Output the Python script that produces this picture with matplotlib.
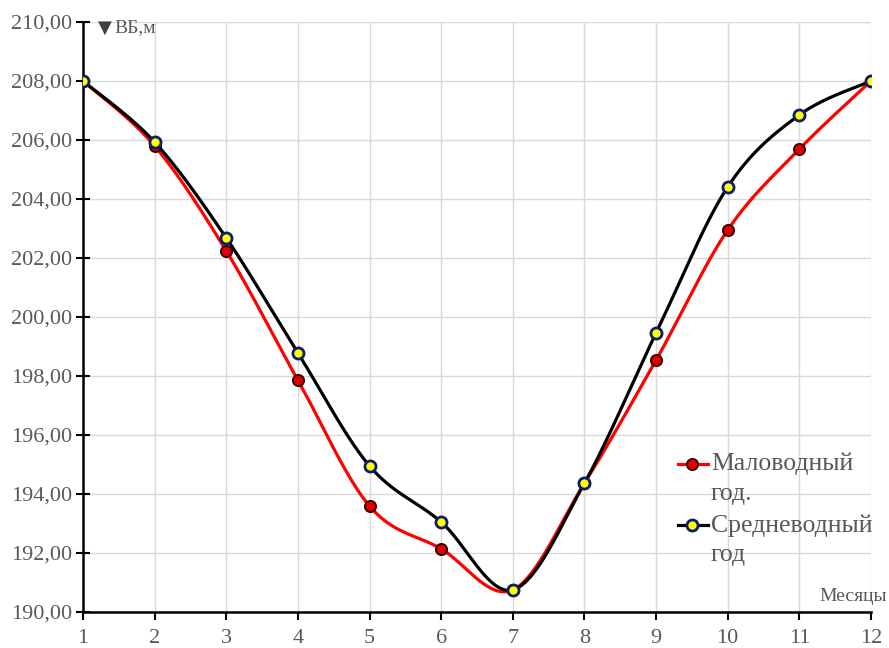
import numpy as np
import matplotlib.pyplot as plt
from matplotlib.ticker import FuncFormatter, MultipleLocator

months = [1, 2, 3, 4, 5, 6, 7, 8, 9, 10, 11, 12]
dry_year = [208.00, 205.80, 202.24, 197.86, 193.59, 192.14, 190.75, 194.37, 198.54, 202.95, 205.69, 208.00]
mean_year = [208.00, 205.93, 202.68, 198.78, 194.95, 193.05, 190.75, 194.37, 199.46, 204.41, 206.85, 208.00]
labels = ['Маловодный\nгод.', 'Средневодный\nгод']


def smooth(x, y, n=40):
    # Catmull-Rom style bezier segments, like a spreadsheet "smoothed line"
    x = np.asarray(x, float)
    y = np.asarray(y, float)
    px = np.concatenate([[x[0]], x, [x[-1]]])
    py = np.concatenate([[y[0]], y, [y[-1]]])
    xs, ys = [], []
    t = np.linspace(0, 1, n)
    for i in range(1, len(px) - 2):
        p0 = np.array([px[i], py[i]])
        p3 = np.array([px[i + 1], py[i + 1]])
        p1 = p0 + (np.array([px[i + 1], py[i + 1]]) - np.array([px[i - 1], py[i - 1]])) / 6
        p2 = p3 - (np.array([px[i + 2], py[i + 2]]) - np.array([px[i], py[i]])) / 6
        b = ((1 - t) ** 3)[:, None] * p0 + (3 * (1 - t) ** 2 * t)[:, None] * p1 \
            + (3 * (1 - t) * t ** 2)[:, None] * p2 + (t ** 3)[:, None] * p3
        xs.append(b[:, 0])
        ys.append(b[:, 1])
    return np.concatenate(xs), np.concatenate(ys)


plt.rcParams['font.family'] = ['Liberation Serif', 'DejaVu Serif']
grey = '#595959'

fig = plt.figure(figsize=(8.89, 6.48), dpi=100)
ax = fig.add_axes([83 / 889, 1 - 612 / 648, (871 - 83) / 889, (612 - 22) / 648])

red_style = dict(color='#ff0000', lw=2.3)
red_marker = dict(marker='o', ms=8, mfc='#e00000', mec='#3a0000', mew=1.4)
blk_style = dict(color='black', lw=2.3)
blk_marker = dict(marker='o', ms=8, mfc='#ffff00', mec='#0b1f6e', mew=2)

sx, sy = smooth(months, dry_year)
ax.plot(sx, sy, zorder=3, **red_style)
ax.plot(months, dry_year, ls='none', zorder=4, **red_marker)
sx, sy = smooth(months, mean_year)
ax.plot(sx, sy, zorder=5, **blk_style)
ax.plot(months, mean_year, ls='none', zorder=6, **blk_marker)

# legend drawn by hand so the marker sits on the first text line
for (ly, lab, st, mk) in [(0.251, labels[0], red_style, red_marker),
                          (0.147, labels[1], blk_style, blk_marker)]:
    ax.plot([0.755, 0.793], [ly, ly], transform=ax.transAxes, clip_on=False, zorder=7, **st)
    ax.plot([0.773], [ly], transform=ax.transAxes, clip_on=False, zorder=8, **mk)
    ax.text(0.797, ly + 0.019, lab, transform=ax.transAxes, fontsize=18.5, color=grey,
            va='top', ha='left', linespacing=1.45)

ax.set_xlim(1, 12)
ax.set_ylim(190, 210)
ax.xaxis.set_major_locator(MultipleLocator(1))
ax.yaxis.set_major_locator(MultipleLocator(2))
ax.yaxis.set_major_formatter(FuncFormatter(lambda v, p: f'{v:.2f}'.replace('.', ',')))
ax.grid(True, color='#d9d9d9', lw=1)
ax.set_axisbelow(True)
for s in ['top', 'right']:
    ax.spines[s].set_visible(False)
for s in ['left', 'bottom']:
    ax.spines[s].set_linewidth(1.8)
ax.tick_params(axis='y', direction='inout', length=10, width=1.5, labelsize=16, labelcolor=grey, pad=3)
ax.tick_params(axis='x', direction='out', length=6, width=1.5, labelsize=16, labelcolor=grey, pad=6)

ax.text(0.019, 0.99, '▼', transform=ax.transAxes, fontsize=13, color='#404040',
        family='DejaVu Sans', va='center', ha='left')
ax.text(0.040, 0.99, 'ВБ,м', transform=ax.transAxes, fontsize=14, color=grey, va='center', ha='left')
ax.text(1.02, 0.012, 'Месяцы', transform=ax.transAxes, fontsize=14, color=grey, va='bottom', ha='right')

fig.savefig('out.png', dpi=100)
